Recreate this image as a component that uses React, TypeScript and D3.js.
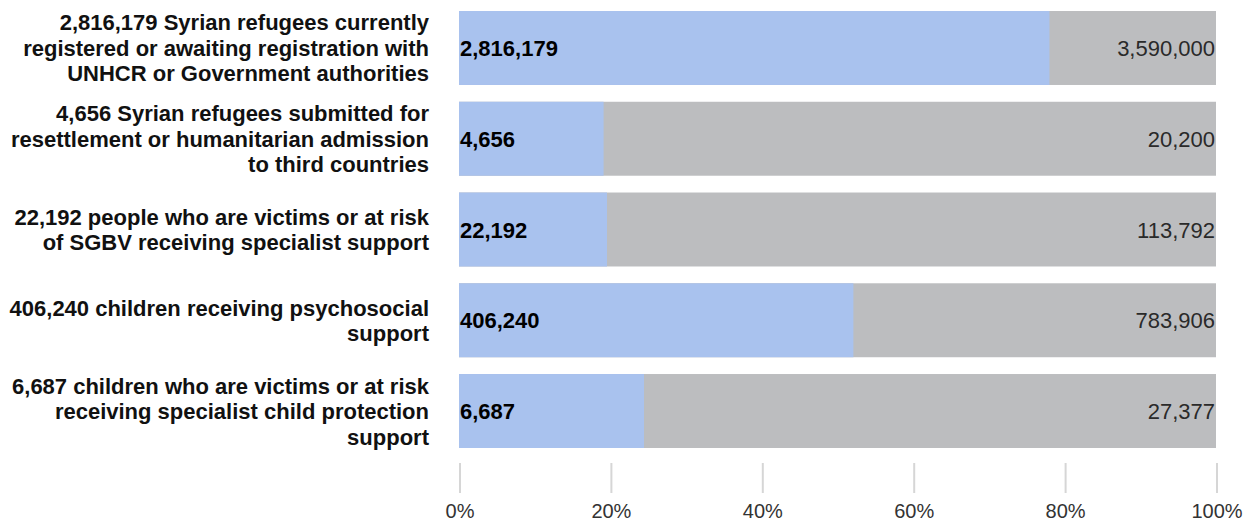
import React from "react";
import * as d3 from "d3";

const labelLines: string[][] = [
  ["2,816,179 Syrian refugees currently", "registered or awaiting registration with", "UNHCR or Government authorities"],
  ["4,656 Syrian refugees submitted for", "resettlement or humanitarian admission", "to third countries"],
  ["22,192 people who are victims or at risk", "of SGBV receiving specialist support"],
  ["406,240 children receiving psychosocial", "support"],
  ["6,687 children who are victims or at risk", "receiving specialist child protection", "support"],
];
const achieved = [2816179, 4656, 22192, 406240, 6687];
const targets = [3590000, 20200, 113792, 783906, 27377];
// share of the bar filled in blue
const progress = [0.78, 0.191, 0.1955, 0.521, 0.2444];
const tickValues = [0, 0.2, 0.4, 0.6, 0.8, 1];

const W = 1245;
const H = 522;
const BLUE = "#a9c2ee";
const GREY = "#bcbdbf";
const FONT = "'Liberation Sans', Arial, Helvetica, sans-serif";

export default function App() {
  const x = d3.scaleLinear().domain([0, 1]).range([459, 1216]);
  const y = d3
    .scaleBand<number>()
    .domain(d3.range(achieved.length))
    .range([11, 448])
    .paddingInner(0.185)
    .paddingOuter(0);
  const fmt = d3.format(",");
  const pct = d3.format(".0%");
  const lineH = 25.5;

  return (
    <svg
      width={W}
      height={H}
      style={{ position: "absolute", left: 0, top: 0, background: "#fff" }}
    >
      {achieved.map((v, i) => {
        const y0 = y(i)!;
        const bh = y.bandwidth();
        const cy = y0 + bh / 2;
        const lines = labelLines[i];
        const startY = cy - ((lines.length - 1) * lineH) / 2;
        return (
          <g key={i}>
            <rect x={x(0)} y={y0} width={x(1) - x(0)} height={bh} fill={GREY} />
            <rect x={x(0)} y={y0} width={x(progress[i]) - x(0)} height={bh} fill={BLUE} />
            <text
              x={x(0) + 1}
              y={cy + 8}
              fontFamily={FONT}
              fontWeight="bold"
              fontSize={22}
              fill="#000"
            >
              {fmt(v)}
            </text>
            <text
              x={x(1) - 1}
              y={cy + 8}
              textAnchor="end"
              fontFamily={FONT}
              fontSize={22}
              fill="#2a2a2a"
            >
              {fmt(targets[i])}
            </text>
            <text
              textAnchor="end"
              fontFamily={FONT}
              fontWeight="bold"
              fontSize={22}
              fill="#111"
            >
              {lines.map((ln, j) => (
                <tspan key={j} x={429} y={startY + j * lineH + 8}>
                  {ln}
                </tspan>
              ))}
            </text>
          </g>
        );
      })}
      {tickValues.map((t) => (
        <g key={t}>
          <line x1={x(t) + 1} x2={x(t) + 1} y1={463} y2={493} stroke="#d6d6d6" strokeWidth={2} />
          <text
            x={x(t) + 1}
            y={518}
            textAnchor="middle"
            fontFamily={FONT}
            fontSize={20}
            fill="#333"
          >
            {pct(t)}
          </text>
        </g>
      ))}
    </svg>
  );
}
